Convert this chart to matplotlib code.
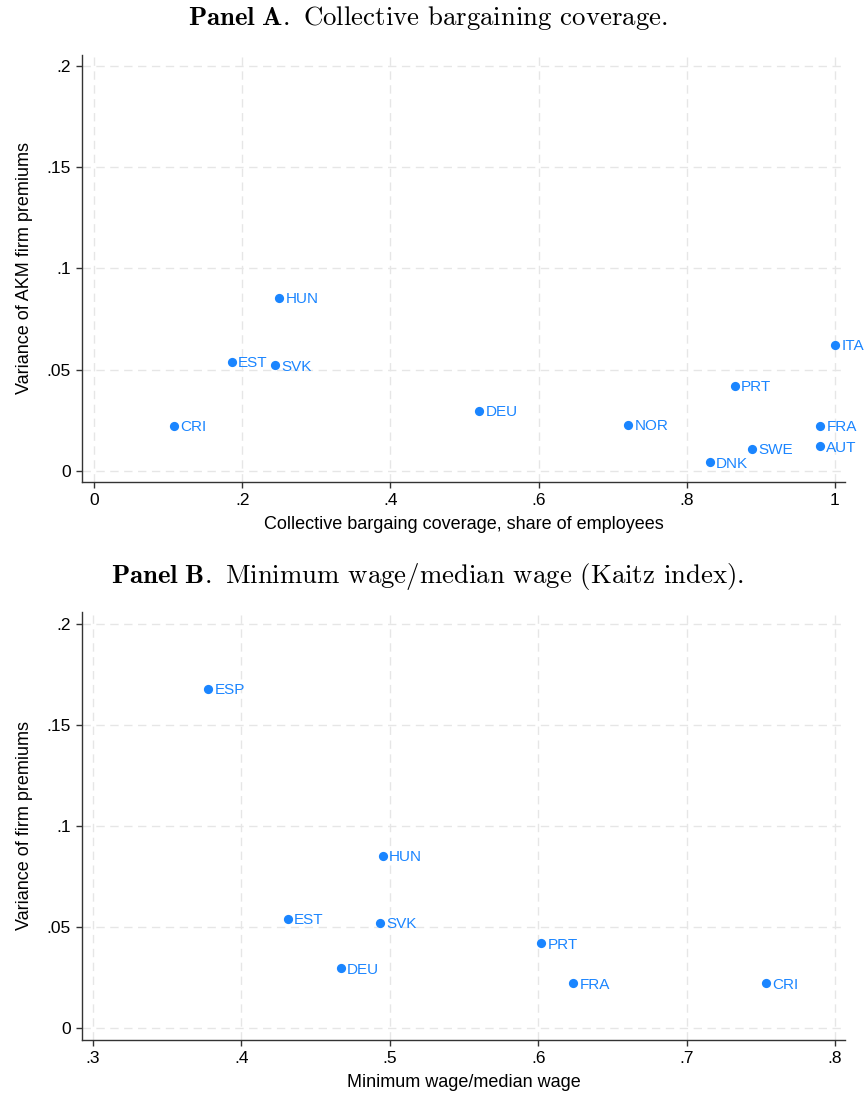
import matplotlib
matplotlib.use("Agg")
import matplotlib.pyplot as plt

# ---- Panel A: collective bargaining coverage vs variance of AKM premiums ----
countries_a = ["CRI", "EST", "SVK", "HUN", "DEU", "NOR", "DNK", "SWE", "PRT", "FRA", "AUT", "ITA"]
coverage_a = [0.108, 0.186, 0.244, 0.250, 0.520, 0.721, 0.831, 0.888, 0.865, 0.980, 0.980, 1.000]
variance_a = [0.0222, 0.0538, 0.0523, 0.0854, 0.0296, 0.0227, 0.0044, 0.0109, 0.0420, 0.0222, 0.0123, 0.0622]
xticks_a = [0, 0.2, 0.4, 0.6, 0.8, 1.0]
xticklabels_a = ["0", ".2", ".4", ".6", ".8", "1"]

# ---- Panel B: Kaitz index vs variance of firm premiums ----
countries_b = ["ESP", "HUN", "EST", "SVK", "DEU", "PRT", "FRA", "CRI"]
kaitz_b = [0.3775, 0.4954, 0.4314, 0.4934, 0.4671, 0.6019, 0.6235, 0.7535]
variance_b = [0.168, 0.0852, 0.0542, 0.0522, 0.0296, 0.0419, 0.0222, 0.0222]
xticks_b = [0.3, 0.4, 0.5, 0.6, 0.7, 0.8]
xticklabels_b = [".3", ".4", ".5", ".6", ".7", ".8"]

yticks = [0, 0.05, 0.1, 0.15, 0.2]
yticklabels = ["0", ".05", ".1", ".15", ".2"]

BLUE = "#1a85ff"
AXC = "#333333"
plt.rcParams["font.family"] = ["Liberation Sans", "DejaVu Sans"]
plt.rcParams["mathtext.fontset"] = "cm"

fig = plt.figure(figsize=(8.65, 10.97), dpi=100)
W, H = 865, 1097


def px_axes(left, top, right, bottom):
    return fig.add_axes([left / W, 1 - bottom / H, (right - left) / W, (bottom - top) / H])


def style(ax, xticks, xlabels, xlabel, ylabel):
    ax.set_yticks(yticks)
    ax.set_yticklabels(yticklabels)
    ax.set_xticks(xticks)
    ax.set_xticklabels(xlabels)
    for s in ["top", "right"]:
        ax.spines[s].set_visible(False)
    for s in ["left", "bottom"]:
        ax.spines[s].set_color(AXC)
        ax.spines[s].set_linewidth(1.0)
    ax.tick_params(direction="out", length=4, width=1.0, color=AXC, labelsize=12.5, pad=4)
    ax.grid(True, color="#e6e6e6", linestyle=(0, (6, 4)), linewidth=1.0)
    ax.set_axisbelow(True)
    ax.set_xlabel(xlabel, fontsize=13, labelpad=6)
    ax.set_ylabel(ylabel, fontsize=13, labelpad=10)


def scatter(ax, xs, ys, names):
    ax.scatter(xs, ys, s=44, color=BLUE, zorder=3, linewidths=0)
    for x, y, n in zip(xs, ys, names):
        ax.annotate(n, (x, y), xytext=(4.5, -1), textcoords="offset points",
                    color=BLUE, fontsize=11, va="center", ha="left")


# Panel A
axa = px_axes(82, 55, 845, 482)
scatter(axa, coverage_a, variance_a, countries_a)
axa.set_xlim(-0.0162, 1.0135)
axa.set_ylim(-0.0054, 0.2054)
style(axa, xticks_a, xticklabels_a, "Collective bargaing coverage, share of employees",
      "Variance of AKM firm premiums")

# Panel B
axb = px_axes(82, 612, 845, 1040)
scatter(axb, kaitz_b, variance_b, countries_b)
axb.set_xlim(0.2926, 0.8067)
axb.set_ylim(-0.0059, 0.2059)
style(axb, xticks_b, xticklabels_b, "Minimum wage/median wage", "Variance of firm premiums")

fig.text(428 / W, 1 - 18 / H, r"$\mathbf{Panel\ A.}$ Collective bargaining coverage.",
         fontfamily="cmr10", fontsize=19.3, ha="center", va="center")
fig.text(428 / W, 1 - 577 / H, r"$\mathbf{Panel\ B.}$ Minimum wage/median wage (Kaitz index).",
         fontfamily="cmr10", fontsize=19.3, ha="center", va="center")

fig.savefig("out.png", dpi=100)
